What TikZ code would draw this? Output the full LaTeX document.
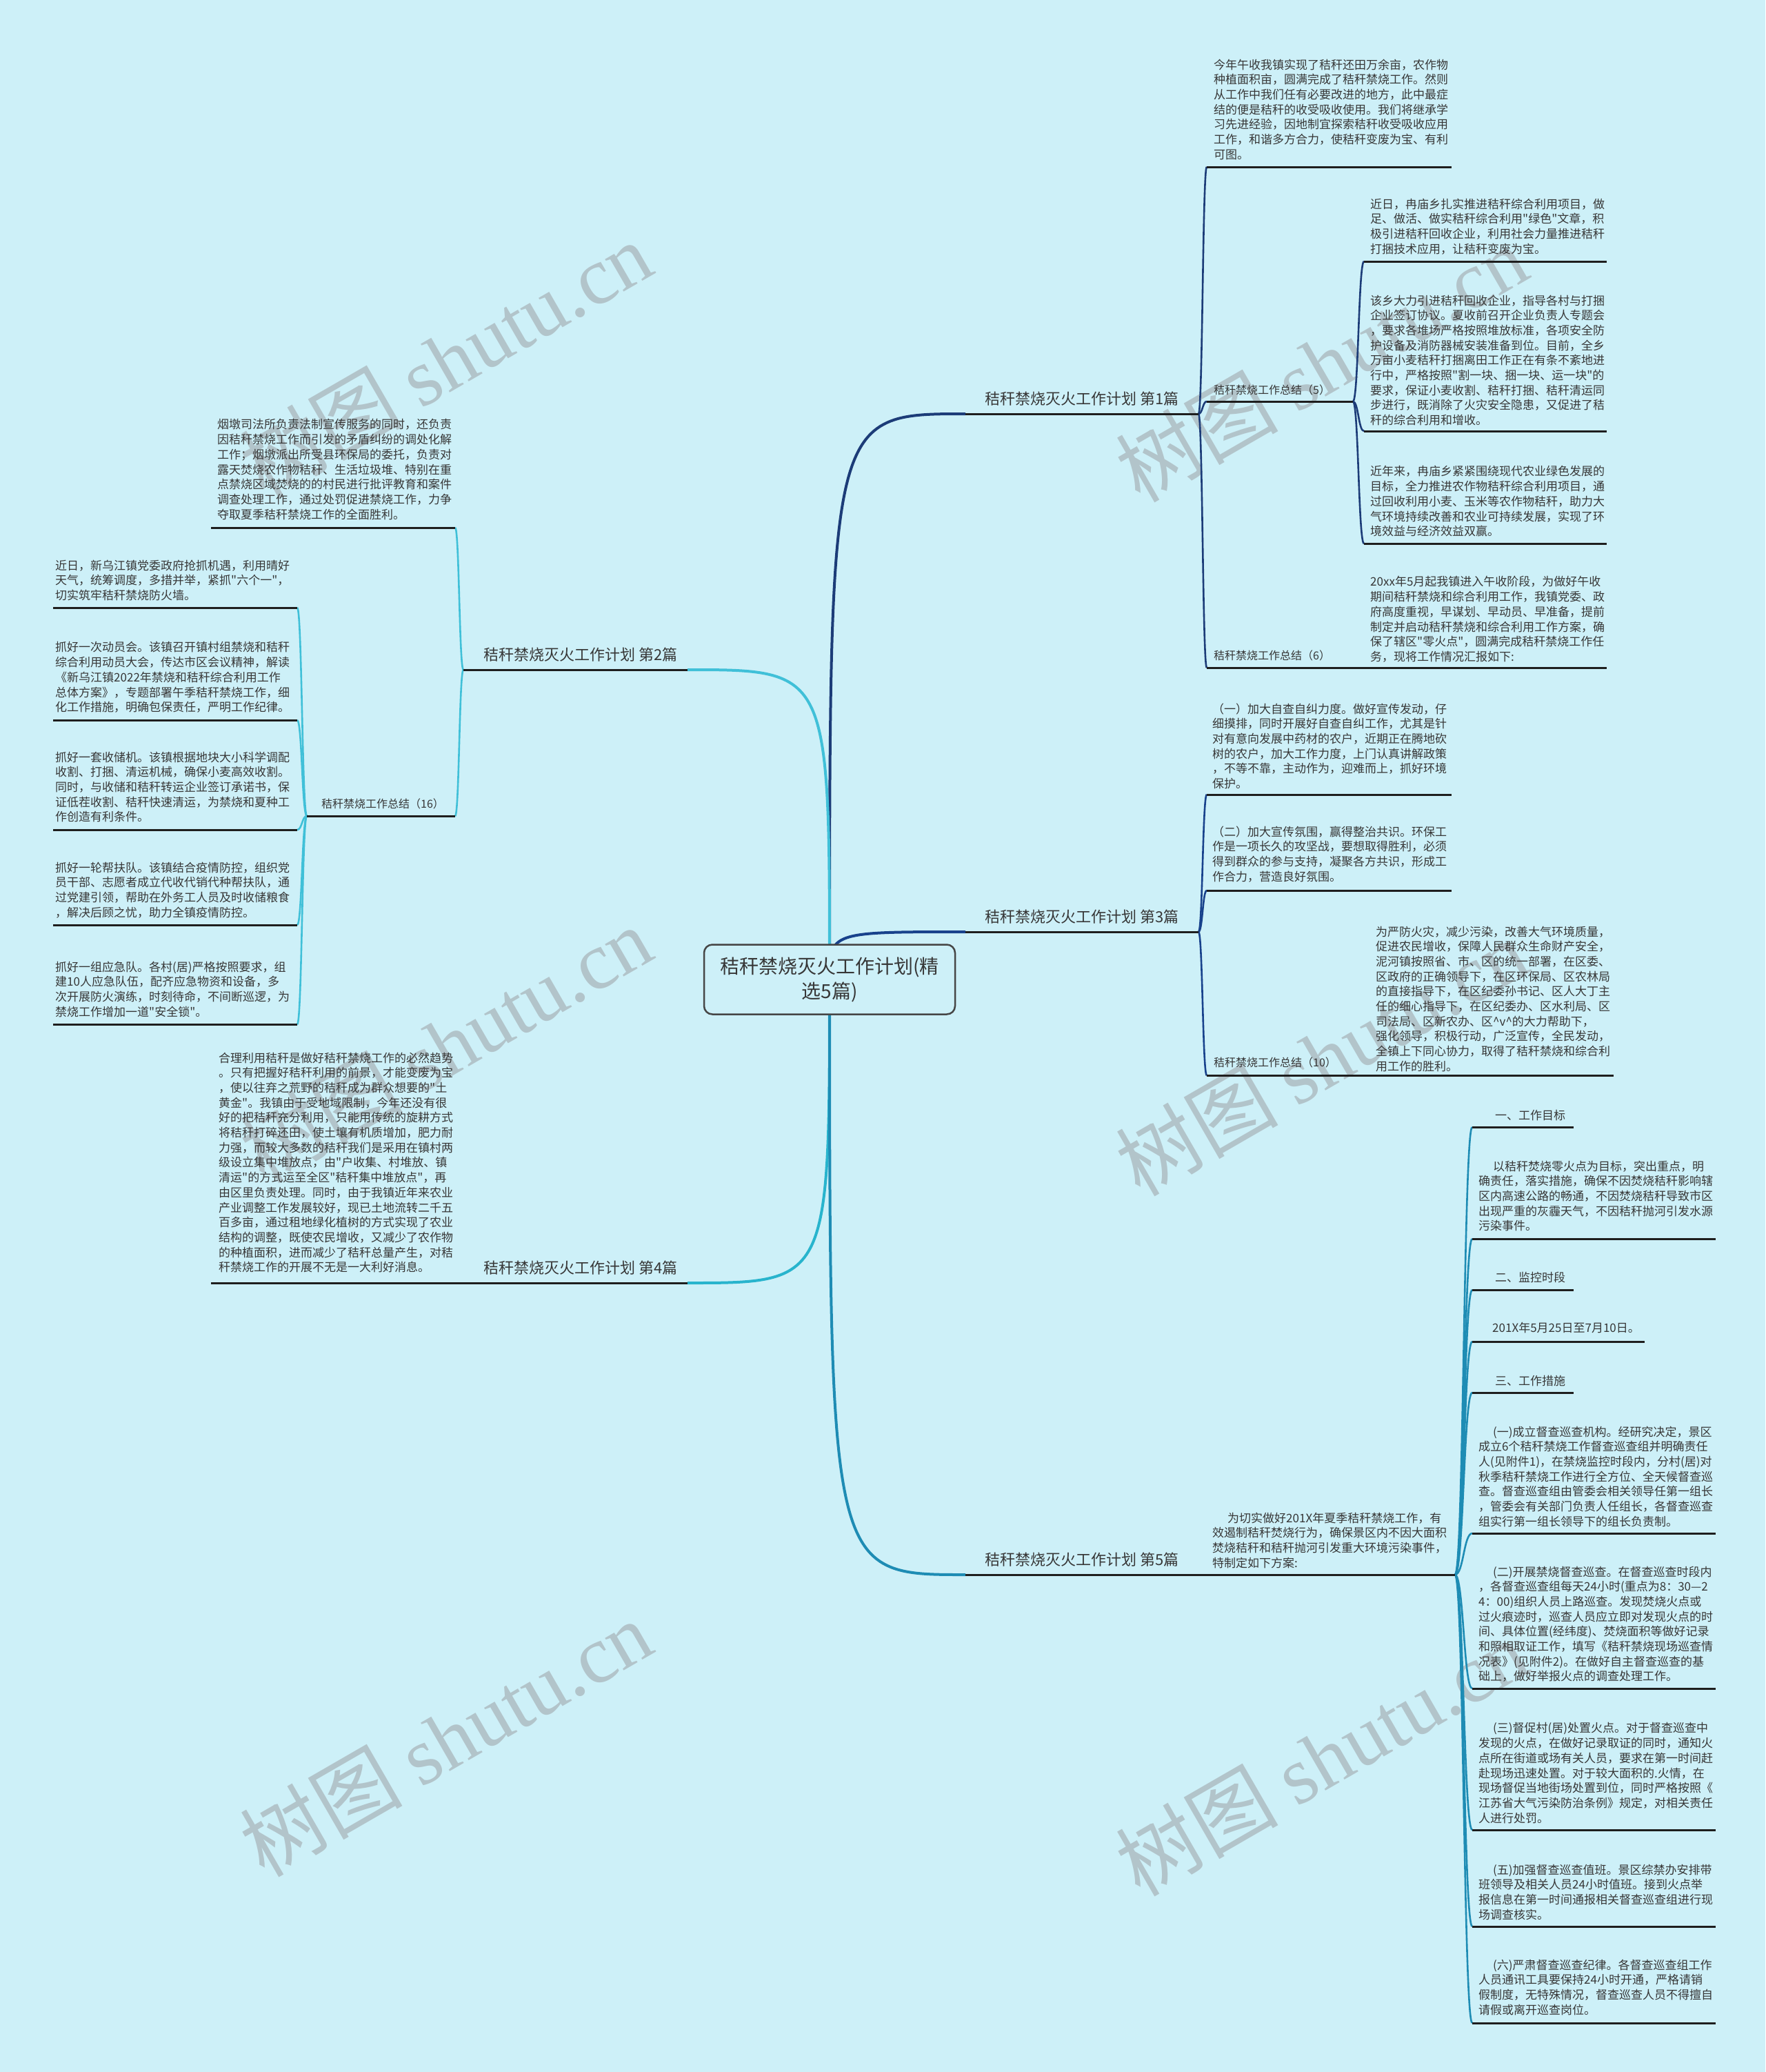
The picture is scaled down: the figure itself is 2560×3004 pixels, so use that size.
\documentclass[tikz,border=0pt]{standalone}
\usepackage{fontspec}
\newfontfamily\cjk{Noto Sans CJK SC}
\newfontfamily\wmlatin{Liberation Serif}
\usetikzlibrary{calc}
\pgfdeclarelayer{bglayer}
\pgfdeclarelayer{connlayer}
\pgfsetlayers{bglayer,connlayer,main}
\definecolor{bgc}{RGB}{205,240,248}
\definecolor{txt}{RGB}{55,55,55}
\definecolor{ulc}{RGB}{30,30,30}
\definecolor{rootb}{RGB}{70,70,70}
\definecolor{wmc}{RGB}{178,196,202}
\definecolor{bA}{RGB}{28,60,120}
\definecolor{bB}{RGB}{64,192,216}
\definecolor{bC}{RGB}{24,66,140}
\definecolor{bD}{RGB}{40,180,205}
\definecolor{bE}{RGB}{30,140,180}
\tikzset{
  para/.style={anchor=north west, inner sep=0pt, align=left, text=txt, font=\cjk\fontsize{17}{21.7}\selectfont},
  item/.style={anchor=west, inner sep=0pt, text=txt, font=\cjk\fontsize{17}{21.7}\selectfont},
  small/.style={anchor=west, inner sep=0pt, text=txt, font=\cjk\fontsize{16}{20}\selectfont},
  blabel/.style={anchor=west, inner sep=0pt, text=txt, font=\cjk\fontsize{22}{26}\selectfont},
  uline/.style={draw=ulc, line width=3pt},
  conn/.style={line width=2.6pt},
  mainconn/.style={line width=4pt},
  rootbox/.style={draw=rootb, line width=2.5pt, rounded corners=12pt, fill=bgc, minimum width=364pt, minimum height=101pt, align=center, text=txt, font=\cjk\fontsize{28}{36}\selectfont, inner sep=0pt},
  wm/.style={rotate=30, text=wmc, inner sep=0pt, font=\cjk\fontsize{118}{118}\selectfont}
}
\newcommand\fanto[3]{\draw[conn,draw=#1] (#2) .. controls ($(#2)!0.5!(#3|-#2)$) and ($(#3)!0.5!(#2|-#3)$) .. (#3);}
\newcommand\mainto[2]{\draw[mainconn,draw=#1] (root.center) .. controls (root.center|-#2) .. (#2);}
\begin{document}
\begin{tikzpicture}[x=1pt,y=-1pt]
\useasboundingbox (0,0) rectangle (2560,3004);
\begin{pgfonlayer}{bglayer}
\fill[bgc] (0,0) rectangle (2560,3004);
\foreach \i/\x/\y in {1/646/521, 2/646/1514, 3/646/2520, 4/1916/527, 5/1916/1533, 6/1916/2548}
  \node[wm] (wm\i) at (\x,\y) {树图 {\wmlatin shutu.cn}};
\end{pgfonlayer}

% root
\node[rootbox] (root) at (1203,1420) {秸秆禁烧灭火工作计划(精\\选5篇)};

% ---------- coordinates ----------
\coordinate (b1l) at (1400,600); \coordinate (b1r) at (1738,600);
\coordinate (b2r) at (997,971);  \coordinate (b2l) at (672,971);
\coordinate (b3l) at (1400,1351); \coordinate (b3r) at (1738,1351);
\coordinate (b4r) at (997,1860); \coordinate (b4l) at (672,1860);
\coordinate (b5l) at (1400,2283); \coordinate (b5r) at (1738,2283);

% branch 1 children
\coordinate (c1al) at (1750,242); \coordinate (c1ar) at (2105,242);
\coordinate (c1bl) at (1750,582); \coordinate (c1br) at (1962,582);
\coordinate (c1b1l) at (1978,379); \coordinate (c1b1r) at (2330,379);
\coordinate (c1b2l) at (1978,625); \coordinate (c1b2r) at (2330,625);
\coordinate (c1b3l) at (1978,788); \coordinate (c1b3r) at (2330,788);
\coordinate (c1cl) at (1750,968); \coordinate (c1cr) at (1962,968);
\coordinate (c1c1l) at (1970,968); \coordinate (c1c1r) at (2330,968);

% branch 3 children
\coordinate (c3al) at (1750,1152); \coordinate (c3ar) at (2105,1152);
\coordinate (c3bl) at (1750,1291); \coordinate (c3br) at (2105,1291);
\coordinate (c3cl) at (1750,1559); \coordinate (c3cr) at (1962,1559);
\coordinate (c3c1l) at (1970,1559); \coordinate (c3c1r) at (2340,1559);

% branch 5 children
\coordinate (c5l) at (1750,2283); \coordinate (c5r) at (2110,2283);
\coordinate (e1l) at (2135,1634); \coordinate (e1r) at (2282,1634);
\coordinate (e2l) at (2135,1796); \coordinate (e2r) at (2488,1796);
\coordinate (e3l) at (2135,1870); \coordinate (e3r) at (2282,1870);
\coordinate (e4l) at (2135,1945); \coordinate (e4r) at (2385,1945);
\coordinate (e5l) at (2135,2019); \coordinate (e5r) at (2282,2019);
\coordinate (e6l) at (2135,2223); \coordinate (e6r) at (2488,2223);
\coordinate (e7l) at (2135,2448); \coordinate (e7r) at (2488,2448);
\coordinate (e8l) at (2135,2653); \coordinate (e8r) at (2488,2653);
\coordinate (e9l) at (2135,2793); \coordinate (e9r) at (2488,2793);
\coordinate (e10l) at (2135,2933); \coordinate (e10r) at (2488,2933);

% branch 2 children
\coordinate (d1r) at (660,765); \coordinate (d1l) at (306,765);
\coordinate (d2r) at (660,1183); \coordinate (d2l) at (445,1183);
\coordinate (f1r) at (431,881); \coordinate (f1l) at (77,881);
\coordinate (f2r) at (431,1044); \coordinate (f2l) at (77,1044);
\coordinate (f3r) at (431,1203); \coordinate (f3l) at (77,1203);
\coordinate (f4r) at (431,1341); \coordinate (f4l) at (77,1341);
\coordinate (f5r) at (431,1485); \coordinate (f5l) at (77,1485);

% branch 4 child
\coordinate (p4r) at (662,1860); \coordinate (p4l) at (306,1860);

% ---------- connectors ----------
\begin{pgfonlayer}{connlayer}
\mainto{bA}{b1l}
\mainto{bB}{b2r}
\mainto{bC}{b3l}
\mainto{bD}{b4r}
\mainto{bE}{b5l}
\end{pgfonlayer}

\fanto{bA}{b1r}{c1al}
\fanto{bA}{b1r}{c1bl}
\fanto{bA}{b1r}{c1cl}
\fanto{bA}{c1br}{c1b1l}
\fanto{bA}{c1br}{c1b2l}
\fanto{bA}{c1br}{c1b3l}
\draw[uline] (c1cr) -- (c1c1l);

\fanto{bC}{b3r}{c3al}
\fanto{bC}{b3r}{c3bl}
\fanto{bC}{b3r}{c3cl}
\draw[uline] (c3cr) -- (c3c1l);

\draw[uline] (b5r) -- (c5l);
\foreach \k in {1,...,10} {\fanto{bE}{c5r}{e\k l}}

\fanto{bB}{b2l}{d1r}
\fanto{bB}{b2l}{d2r}
\foreach \k in {1,...,5} {\fanto{bB}{d2l}{f\k r}}

\draw[uline] (b4l) -- (p4r);

% ---------- underlines ----------
\draw[uline] (b1l) -- (b1r);
\draw[uline] (b2l) -- (b2r);
\draw[uline] (b3l) -- (b3r);
\draw[uline] (b4l) -- (b4r);
\draw[uline] (b5l) -- (b5r);
\foreach \a/\b in {c1al/c1ar, c1bl/c1br, c1b1l/c1b1r, c1b2l/c1b2r, c1b3l/c1b3r, c1cl/c1cr, c1c1l/c1c1r,
  c3al/c3ar, c3bl/c3br, c3cl/c3cr, c3c1l/c3c1r, c5l/c5r,
  e1l/e1r, e2l/e2r, e3l/e3r, e4l/e4r, e5l/e5r, e6l/e6r, e7l/e7r, e8l/e8r, e9l/e9r, e10l/e10r,
  d1l/d1r, d2l/d2r, f1l/f1r, f2l/f2r, f3l/f3r, f4l/f4r, f5l/f5r, p4l/p4r}
  \draw[uline] (\a) -- (\b);

% ---------- branch labels ----------
\node[blabel] (t1) at (1428,578) {秸秆禁烧灭火工作计划 第1篇};
\node[blabel] (t2) at (701,949) {秸秆禁烧灭火工作计划 第2篇};
\node[blabel] (t3) at (1428,1329) {秸秆禁烧灭火工作计划 第3篇};
\node[blabel] (t4) at (701,1838) {秸秆禁烧灭火工作计划 第4篇};
\node[blabel] (t5) at (1428,2261) {秸秆禁烧灭火工作计划 第5篇};

% ---------- branch 1 texts ----------
\node[para] (c1a) at (1760,85.4) {今年午收我镇实现了秸秆还田万余亩，农作物\\种植面积亩，圆满完成了秸秆禁烧工作。然则\\从工作中我们任有必要改进的地方，此中最症\\结的便是秸秆的收受吸收使用。我们将继承学\\习先进经验，因地制宜探索秸秆收受吸收应用\\工作，和谐多方合力，使秸秆变废为宝、有利\\可图。};
\node[small] (c1b) at (1760,565) {秸秆禁烧工作总结（5）};
\node[para] (c1b1) at (1987,287.4) {近日，冉庙乡扎实推进秸秆综合利用项目，做\\足、做活、做实秸秆综合利用"绿色"文章，积\\极引进秸秆回收企业，利用社会力量推进秸秆\\打捆技术应用，让秸秆变废为宝。};
\node[para] (c1b2) at (1987,427.4) {该乡大力引进秸秆回收企业，指导各村与打捆\\企业签订协议。夏收前召开企业负责人专题会\\，要求各堆场严格按照堆放标准，各项安全防\\护设备及消防器械安装准备到位。目前，全乡\\万亩小麦秸秆打捆离田工作正在有条不紊地进\\行中，严格按照"割一块、捆一块、运一块"的\\要求，保证小麦收割、秸秆打捆、秸秆清运同\\步进行，既消除了火灾安全隐患，又促进了秸\\秆的综合利用和增收。};
\node[para] (c1b3) at (1987,675.4) {近年来，冉庙乡紧紧围绕现代农业绿色发展的\\目标，全力推进农作物秸秆综合利用项目，通\\过回收利用小麦、玉米等农作物秸秆，助力大\\气环境持续改善和农业可持续发展，实现了环\\境效益与经济效益双赢。};
\node[small] (c1c) at (1760,950) {秸秆禁烧工作总结（6）};
\node[para] (c1c1) at (1987,835.4) {20xx年5月起我镇进入午收阶段，为做好午收\\期间秸秆禁烧和综合利用工作，我镇党委、政\\府高度重视，早谋划、早动员、早准备，提前\\制定并启动秸秆禁烧和综合利用工作方案，确\\保了辖区"零火点"，圆满完成秸秆禁烧工作任\\务，现将工作情况汇报如下:};

% ---------- branch 3 texts ----------
\node[para] (c3a) at (1758,1019.4) {（一）加大自查自纠力度。做好宣传发动，仔\\细摸排，同时开展好自查自纠工作，尤其是针\\对有意向发展中药材的农户，近期正在腾地砍\\树的农户，加大工作力度，上门认真讲解政策\\，不等不靠，主动作为，迎难而上，抓好环境\\保护。};
\node[para] (c3b) at (1758,1197.4) {（二）加大宣传氛围，赢得整治共识。环保工\\作是一项长久的攻坚战，要想取得胜利，必须\\得到群众的参与支持，凝聚各方共识，形成工\\作合力，营造良好氛围。};
\node[small] (c3c) at (1760,1540) {秸秆禁烧工作总结（10）};
\node[para] (c3c1) at (1995,1342.4) {为严防火灾，减少污染，改善大气环境质量，\\促进农民增收，保障人民群众生命财产安全，\\泥河镇按照省、市、区的统一部署，在区委、\\区政府的正确领导下，在区环保局、区农林局\\的直接指导下，在区纪委孙书记、区人大丁主\\任的细心指导下，在区纪委办、区水利局、区\\司法局、区新农办、区\textasciicircum{}v\textasciicircum{}的大力帮助下，\\强化领导，积极行动，广泛宣传，全民发动，\\全镇上下同心协力，取得了秸秆禁烧和综合利\\用工作的胜利。};

% ---------- branch 5 texts ----------
\node[para] (c5) at (1758,2192.4) {\hspace*{22pt}为切实做好201X年夏季秸秆禁烧工作，有\\效遏制秸秆焚烧行为，确保景区内不因大面积\\焚烧秸秆和秸秆抛河引发重大环境污染事件，\\特制定如下方案:};
\node[item] (e1) at (2168,1617) {一、工作目标};
\node[para] (e2) at (2144,1682.4) {\hspace*{21pt}以秸秆焚烧零火点为目标，突出重点，明\\确责任，落实措施，确保不因焚烧秸秆影响辖\\区内高速公路的畅通，不因焚烧秸秆导致市区\\出现严重的灰霾天气，不因秸秆抛河引发水源\\污染事件。};
\node[item] (e3) at (2168,1852) {二、监控时段};
\node[item] (e4) at (2164,1925) {201X年5月25日至7月10日。};
\node[item] (e5) at (2168,2002) {三、工作措施};
\node[para] (e6) at (2144,2067.4) {\hspace*{21pt}(一)成立督查巡查机构。经研究决定，景区\\成立6个秸秆禁烧工作督查巡查组并明确责任\\人(见附件1)，在禁烧监控时段内，分村(居)对\\秋季秸秆禁烧工作进行全方位、全天候督查巡\\查。督查巡查组由管委会相关领导任第一组长\\，管委会有关部门负责人任组长，各督查巡查\\组实行第一组长领导下的组长负责制。};
\node[para] (e7) at (2144,2270.4) {\hspace*{21pt}(二)开展禁烧督查巡查。在督查巡查时段内\\，各督查巡查组每天24小时(重点为8：30—2\\4：00)组织人员上路巡查。发现焚烧火点或\\过火痕迹时，巡查人员应立即对发现火点的时\\间、具体位置(经纬度)、焚烧面积等做好记录\\和照相取证工作，填写《秸秆禁烧现场巡查情\\况表》(见附件2)。在做好自主督查巡查的基\\础上，做好举报火点的调查处理工作。};
\node[para] (e8) at (2144,2497.4) {\hspace*{21pt}(三)督促村(居)处置火点。对于督查巡查中\\发现的火点，在做好记录取证的同时，通知火\\点所在街道或场有关人员，要求在第一时间赶\\赴现场迅速处置。对于较大面积的.火情，在\\现场督促当地街场处置到位，同时严格按照《\\江苏省大气污染防治条例》规定，对相关责任\\人进行处罚。};
\node[para] (e9) at (2144,2702.4) {\hspace*{21pt}(五)加强督查巡查值班。景区综禁办安排带\\班领导及相关人员24小时值班。接到火点举\\报信息在第一时间通报相关督查巡查组进行现\\场调查核实。};
\node[para] (e10) at (2144,2840.4) {\hspace*{21pt}(六)严肃督查巡查纪律。各督查巡查组工作\\人员通讯工具要保持24小时开通，严格请销\\假制度，无特殊情况，督查巡查人员不得擅自\\请假或离开巡查岗位。};

% ---------- branch 2 texts ----------
\node[para] (d1) at (315,607.4) {烟墩司法所负责法制宣传服务的同时，还负责\\因秸秆禁烧工作而引发的矛盾纠纷的调处化解\\工作；烟墩派出所受县环保局的委托，负责对\\露天焚烧农作物秸秆、生活垃圾堆、特别在重\\点禁烧区域焚烧的的村民进行批评教育和案件\\调查处理工作，通过处罚促进禁烧工作，力争\\夺取夏季秸秆禁烧工作的全面胜利。};
\node[small] (d2) at (466,1165) {秸秆禁烧工作总结（16）};
\node[para] (f1) at (80,811.4) {近日，新乌江镇党委政府抢抓机遇，利用晴好\\天气，统筹调度，多措并举，紧抓"六个一"，\\切实筑牢秸秆禁烧防火墙。};
\node[para] (f2) at (80,930.4) {抓好一次动员会。该镇召开镇村组禁烧和秸秆\\综合利用动员大会，传达市区会议精神，解读\\《新乌江镇2022年禁烧和秸秆综合利用工作\\总体方案》，专题部署午季秸秆禁烧工作，细\\化工作措施，明确包保责任，严明工作纪律。};
\node[para] (f3) at (80,1089.4) {抓好一套收储机。该镇根据地块大小科学调配\\收割、打捆、清运机械，确保小麦高效收割。\\同时，与收储和秸秆转运企业签订承诺书，保\\证低茬收割、秸秆快速清运，为禁烧和夏种工\\作创造有利条件。};
\node[para] (f4) at (80,1249.4) {抓好一轮帮扶队。该镇结合疫情防控，组织党\\员干部、志愿者成立代收代销代种帮扶队，通\\过党建引领，帮助在外务工人员及时收储粮食\\，解决后顾之忧，助力全镇疫情防控。};
\node[para] (f5) at (80,1393.4) {抓好一组应急队。各村(居)严格按照要求，组\\建10人应急队伍，配齐应急物资和设备，多\\次开展防火演练，时刻待命，不间断巡逻，为\\禁烧工作增加一道"安全锁"。};

% ---------- branch 4 texts ----------
\node[para] (p4) at (317,1525.4) {合理利用秸秆是做好秸秆禁烧工作的必然趋势\\。只有把握好秸秆利用的前景，才能变废为宝\\，使以往弃之荒野的秸秆成为群众想要的"土\\黄金"。我镇由于受地域限制，今年还没有很\\好的把秸秆充分利用，只能用传统的旋耕方式\\将秸秆打碎还田，使土壤有机质增加，肥力耐\\力强，而较大多数的秸秆我们是采用在镇村两\\级设立集中堆放点，由"户收集、村堆放、镇\\清运"的方式运至全区"秸秆集中堆放点"，再\\由区里负责处理。同时，由于我镇近年来农业\\产业调整工作发展较好，现已土地流转二千五\\百多亩，通过租地绿化植树的方式实现了农业\\结构的调整，既使农民增收，又减少了农作物\\的种植面积，进而减少了秸秆总量产生，对秸\\秆禁烧工作的开展不无是一大利好消息。};
\end{tikzpicture}
\end{document}
